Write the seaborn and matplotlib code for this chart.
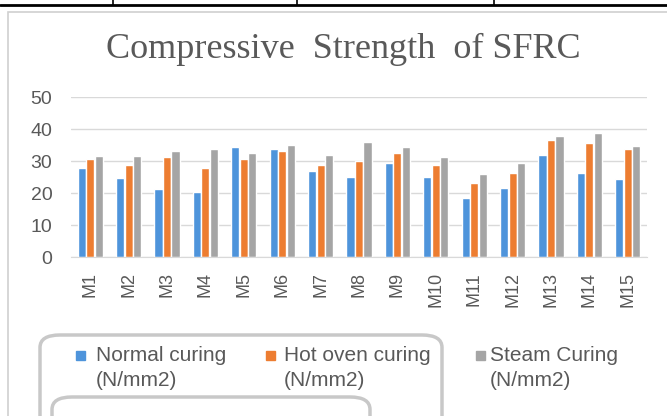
import matplotlib
matplotlib.use("Agg")
import matplotlib.pyplot as plt
import seaborn as sns
import pandas as pd
from matplotlib.patches import FancyBboxPatch
from matplotlib.lines import Line2D

categories = ["M1", "M2", "M3", "M4", "M5", "M6", "M7", "M8", "M9", "M10",
              "M11", "M12", "M13", "M14", "M15"]
normal = [27.8, 24.7, 21.2, 20.4, 34.4, 33.7, 27.0, 25.0, 29.3, 25.0, 18.4, 21.5, 32.0, 26.2, 24.3]
hot_oven = [30.5, 28.7, 31.3, 27.8, 30.5, 33.0, 28.9, 30.0, 32.5, 28.6, 23.0, 26.2, 36.7, 35.6, 33.6]
steam = [31.7, 31.7, 33.0, 33.7, 32.4, 35.1, 32.0, 36.0, 34.3, 31.2, 26.0, 29.3, 37.9, 38.7, 34.7]
series_names = ["Normal curing\n(N/mm2)", "Hot oven curing\n(N/mm2)", "Steam Curing\n(N/mm2)"]
colors = ["#4E94DB", "#ED7D31", "#A5A5A5"]
yticks = [0, 10, 20, 30, 40, 50]

df = pd.DataFrame({
    "Mix": categories * 3,
    "Value": normal + hot_oven + steam,
    "Series": [series_names[0]] * 15 + [series_names[1]] * 15 + [series_names[2]] * 15,
})

sns.set_style("white")
plt.rcParams["font.family"] = ["Liberation Sans", "DejaVu Sans"]

fig = plt.figure(figsize=(6.67, 4.16), dpi=100)
fig.patch.set_facecolor("white")

# top table lines (page artifact)
fig.add_artist(Line2D([0, 1], [1 - 5 / 416, 1 - 5 / 416], color="black", lw=2))
for xp in [113, 297, 494]:
    fig.add_artist(Line2D([xp / 667, xp / 667], [1 - 5 / 416, 1], color="black", lw=1.2))
# chart border
fig.add_artist(FancyBboxPatch((8 / 667, -0.05), 1.2, 1 - 12 / 416 + 0.05,
                              boxstyle="square,pad=0", fill=False, ec="#d0d0d0", lw=1.2,
                              transform=fig.transFigure))

ax = fig.add_axes([71 / 667, 1 - 257 / 416, (647 - 71) / 667, (257 - 97) / 416])
sns.barplot(data=df, x="Mix", y="Value", hue="Series", palette=colors,
            width=0.66, gap=0.03, ax=ax, legend=False, saturation=1)

ax.set_ylim(0, 50)
ax.set_xlim(-0.5, 14.5)
ax.set_yticks(yticks)
ax.set_yticklabels([str(v) for v in yticks])
ax.yaxis.grid(True, color="#d9d9d9", lw=1)
ax.set_axisbelow(True)
for s in ["top", "right", "left"]:
    ax.spines[s].set_visible(False)
ax.spines["bottom"].set_color("#d9d9d9")
ax.tick_params(axis="both", length=0, colors="#595959")
ax.tick_params(axis="y", pad=13.5, labelsize=14)
ax.tick_params(axis="x", pad=11, labelsize=13)
plt.setp(ax.get_xticklabels(), rotation=90)
ax.set_xlabel("")
ax.set_ylabel("")

fig.text(343 / 667, 1 - 58 / 416, "Compressive  Strength  of SFRC", ha="center", va="baseline",
         fontsize=26, color="#595959", family=["Liberation Serif", "DejaVu Serif"])

# legend
marker_x = [76, 266, 476]
text_x = [96, 284, 490]
for name, c, mx, tx in zip(series_names, colors, marker_x, text_x):
    fig.patches.append(plt.Rectangle((mx / 667, 1 - 360 / 416), 9 / 667, 9 / 416,
                                     transform=fig.transFigure, color=c, figure=fig))
    fig.text(tx / 667, 1 - 346 / 416, name, ha="left", va="top",
             fontsize=15, color="#595959", linespacing=1.4)

# rounded artifact boxes
fig.add_artist(FancyBboxPatch((40 / 667, 1 - 430 / 416), 402 / 667, 95 / 416,
                              boxstyle="round,pad=0,rounding_size=0.03", fill=False,
                              ec="#c8c8c8", lw=2.5, transform=fig.transFigure))
fig.add_artist(FancyBboxPatch((52 / 667, 1 - 450 / 416), 318 / 667, 53 / 416,
                              boxstyle="round,pad=0,rounding_size=0.03", fill=False,
                              ec="#c8c8c8", lw=2.5, transform=fig.transFigure))

fig.savefig("out.png", dpi=100, facecolor="white")
